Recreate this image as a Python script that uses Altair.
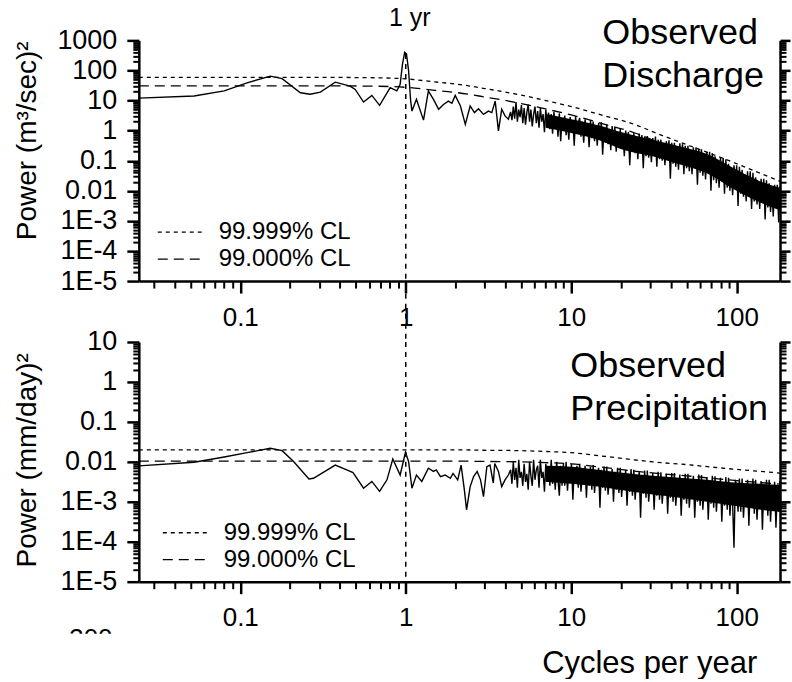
import numpy as np
import pandas as pd
import altair as alt

FONT = "Liberation Sans"
F_MIN, F_MAX = 1 / 41, 182.5

# ---------------- tick values / labels ----------------
x_tick_values = [0.1, 1, 10, 100]
x_tick_labels = ["0.1", "1", "10", "100"]
q_tick_values = [1e-5, 1e-4, 1e-3, 1e-2, 1e-1, 1, 10, 100, 1000]
q_tick_labels = ["1E-5", "1E-4", "1E-3", "0.01", "0.1", "1", "10", "100", "1000"]
p_tick_values = [1e-5, 1e-4, 1e-3, 1e-2, 1e-1, 1, 10]
p_tick_labels = ["1E-5", "1E-4", "1E-3", "0.01", "0.1", "1", "10"]

# ---------------- confidence limits (log10 power) ----------------
cl_freq = [0.02439, 0.3, 0.6, 1, 1.5, 2, 3, 5, 7, 10, 15, 24, 35, 50, 70, 100, 140, 182.5]
q_cl999 = [1.77, 1.77, 1.76, 1.72, 1.62, 1.55, 1.40, 1.18, 1.00, 0.80, 0.53, 0.21, -0.15, -0.47, -0.77, -1.10, -1.43, -1.68]
q_cl990 = [1.49, 1.49, 1.48, 1.44, 1.34, 1.27, 1.12, 0.90, 0.72, 0.52, 0.25, -0.07, -0.43, -0.75, -1.05, -1.38, -1.71, -1.96]
p_cl999 = [-1.70, -1.70, -1.70, -1.70, -1.70, -1.70, -1.71, -1.72, -1.74, -1.77, -1.85, -1.95, -2.02, -2.07, -2.13, -2.19, -2.24, -2.28]
p_cl990 = [-1.98, -1.98, -1.98, -1.98, -1.98, -1.98, -1.99, -2.00, -2.02, -2.05, -2.13, -2.23, -2.30, -2.35, -2.41, -2.47, -2.52, -2.56]

# ---------------- discharge spectrum (log10 power) ----------------
q_low_freq = [0.02439, 0.0526, 0.080, 0.110, 0.152, 0.179, 0.231, 0.265, 0.305, 0.375, 0.461, 0.495,
              0.556, 0.624, 0.695, 0.805, 0.883, 0.925, 0.955, 0.985, 1.01, 1.04, 1.07, 1.09, 1.16,
              1.28, 1.37, 1.47, 1.58, 1.69, 1.81, 1.90, 1.99, 2.14, 2.29, 2.45, 2.60, 2.75, 2.95,
              3.16, 3.31, 3.47, 3.63, 3.80, 3.98, 4.17]
q_low_lp = [1.08, 1.15, 1.32, 1.59, 1.81, 1.73, 1.26, 1.21, 1.28, 1.61, 1.48, 1.37,
            0.95, 1.17, 0.84, 1.43, 1.32, 1.54, 2.20, 2.60, 2.55, 2.00, 1.00, 0.65, 1.04,
            0.35, 1.32, 1.04, 0.71, 0.87, 0.98, 0.91, 1.17, 0.82, 0.21, 0.82, 0.60, 0.73, 0.54,
            0.65, 0.60, 0.98, -0.01, 0.71, 0.49, 0.38]
# 200 values, log-spaced frequencies from 4.3 to 182.5 cycles/yr
q_high_lp = [
    0.62, 0.35, 0.80, 0.40, 0.95, 0.30, 0.70, 0.45, 0.85, 0.25,
    0.75, 0.20, 0.60, 0.87, 0.30, 0.70, 0.14, 0.55, 0.80, 0.25,
    0.65, 0.10, 0.75, 0.30, 0.55, -0.05, 0.70, 0.20, 0.60, 0.05,
    0.55, -0.10, 0.62, 0.15, 0.45, -0.20, 0.58, -0.35, 0.40, 0.10,
    0.50, -0.15, 0.35, -0.30, 0.45, 0.05, 0.30, -0.50, 0.48, -0.10,
    0.25, 0.42, -0.20, 0.30, -0.40, 0.38, -0.10, 0.20, -0.55, 0.35,
    -0.25, 0.30, -0.35, 0.15, -0.50, 0.25, -0.20, 0.28, -0.80, 0.10,
    -0.40, 0.20, -0.45, 0.05, -0.65, 0.15, -0.30, 0.12, -0.70, -0.05,
    -0.50, 0.05, -0.60, -0.10, -0.85, 0.00, -0.50, -0.05, -1.15, -0.20,
    -0.70, -0.07, -0.75, -0.25, -0.95, -0.10, -0.60, -0.15, -1.25, -0.20,
    -0.85, -0.18, -0.90, -0.35, -1.05, -0.25, -0.70, -0.20, -1.20, -0.30,
    -0.95, -0.30, -1.00, -0.45, -1.15, -0.35, -0.80, -0.32, -1.60, -0.40,
    -1.10, -0.40, -1.20, -0.55, -1.30, -0.42, -0.95, -0.45, -1.45, -0.50,
    -1.25, -0.50, -1.35, -0.65, -1.45, -0.55, -1.10, -0.55, -1.80, -0.60,
    -1.40, -0.62, -1.50, -0.80, -1.62, -0.70, -1.25, -0.70, -2.00, -0.75,
    -1.65, -0.85, -1.75, -1.00, -1.90, -0.90, -1.50, -0.90, -2.10, -0.95,
    -1.90, -1.10, -2.00, -1.25, -2.15, -1.15, -1.75, -1.15, -2.50, -1.20,
    -2.10, -1.30, -2.20, -1.45, -2.35, -1.35, -1.95, -1.35, -2.60, -1.40,
    -2.35, -1.55, -2.45, -1.70, -2.60, -1.60, -2.20, -1.60, -2.95, -1.65,
    -2.55, -1.75, -2.70, -1.90, -2.85, -1.80, -2.40, -1.80, -3.05, -1.85,
]
# dense core of the noisy band (log10 power)
band_freq = [7, 10, 14.5, 21, 31, 45, 66, 96, 140, 182.5]
q_band_hi = [0.55, 0.38, 0.18, -0.08, -0.30, -0.52, -0.78, -1.25, -1.70, -1.90]
q_band_lo = [0.10, -0.08, -0.30, -0.65, -0.85, -1.12, -1.42, -1.95, -2.40, -2.65]

# ---------------- precipitation spectrum (log10 power) ----------------
p_low_freq = [0.02439, 0.0526, 0.080, 0.110, 0.152, 0.179, 0.21, 0.26, 0.277, 0.375, 0.44, 0.48,
              0.556, 0.624, 0.695, 0.77, 0.835, 0.925, 0.996, 1.04, 1.09, 1.16, 1.25, 1.37, 1.47,
              1.53, 1.62, 1.73, 1.86, 1.93, 2.06, 2.16, 2.26, 2.33, 2.45, 2.57, 2.70, 2.83, 2.95,
              3.09, 3.23, 3.38, 3.45, 3.63, 3.80, 3.98, 4.17]
p_low_lp = [-2.10, -2.01, -1.88, -1.77, -1.66, -1.72, -1.99, -2.43, -2.41, -2.08, -2.20, -2.27,
            -2.66, -2.49, -2.74, -2.45, -1.93, -2.33, -1.76, -1.99, -2.66, -2.33, -2.49, -2.16, -2.24,
            -2.20, -2.37, -2.33, -2.41, -2.29, -2.45, -2.08, -2.70, -3.20, -2.62, -2.37, -2.24, -2.45, -2.87,
            -2.12, -2.08, -2.53, -2.04, -2.24, -2.62, -2.45, -2.33]
p_high_lp = [
    -2.20, -2.55, -2.00, -2.45, -2.15, -2.65, -1.95, -2.40, -2.25, -2.60,
    -2.05, -2.50, -2.30, -2.70, -2.00, -2.35, -2.60, -1.95, -2.45, -2.20,
    -2.10, -2.65, -1.95, -2.40, -2.25, -2.75, -2.05, -2.50, -2.15, -2.60,
    -1.95, -2.55, -2.20, -2.70, -2.00, -2.45, -2.85, -2.10, -2.60, -2.05,
    -2.60, -2.00, -2.72, -2.25, -2.45, -2.05, -2.95, -2.15, -2.55, -2.10,
    -2.65, -2.05, -2.75, -2.30, -2.50, -2.10, -2.90, -2.20, -2.60, -2.12,
    -2.70, -2.08, -2.78, -2.30, -2.55, -2.15, -3.15, -2.20, -2.65, -2.12,
    -2.72, -2.12, -2.82, -2.35, -2.60, -2.18, -3.00, -2.25, -2.70, -2.15,
    -2.78, -2.15, -2.88, -2.40, -2.65, -2.20, -3.10, -2.30, -2.75, -2.18,
    -2.85, -2.20, -2.95, -2.45, -2.70, -2.25, -3.40, -2.35, -2.80, -2.22,
    -2.90, -2.22, -3.00, -2.50, -2.75, -2.28, -3.20, -2.40, -2.85, -2.25,
    -2.95, -2.26, -3.05, -2.55, -2.80, -2.30, -3.30, -2.45, -2.90, -2.28,
    -3.00, -2.28, -3.10, -2.60, -2.85, -2.32, -3.35, -2.50, -2.95, -2.30,
    -3.05, -2.30, -3.15, -2.62, -2.90, -2.35, -3.40, -2.55, -3.00, -2.32,
    -3.10, -2.33, -3.20, -2.65, -2.95, -2.38, -3.45, -2.55, -3.05, -2.35,
    -3.15, -2.36, -3.25, -2.70, -3.00, -2.40, -3.50, -2.60, -3.10, -2.38,
    -3.20, -2.40, -3.35, -2.72, -3.05, -4.15, -2.45, -2.60, -3.25, -2.42,
    -3.25, -2.42, -3.40, -2.75, -3.05, -2.45, -3.60, -2.60, -3.15, -2.42,
    -3.30, -2.45, -3.45, -2.80, -3.10, -2.48, -3.70, -2.65, -3.20, -2.45,
    -3.35, -2.45, -3.50, -2.80, -3.15, -2.50, -3.65, -2.70, -3.25, -2.48,
]
p_band_hi = [-2.10, -2.12, -2.20, -2.28, -2.35, -2.40, -2.45, -2.52, -2.55, -2.58]
p_band_lo = [-2.50, -2.55, -2.62, -2.72, -2.82, -2.90, -3.00, -3.10, -3.20, -3.25]

high_freq = list(np.geomspace(4.3, F_MAX, len(q_high_lp)))

legend_labels = ["99.999% CL", "99.000% CL"]

W = 642
H_TOP, H_BOT = 241, 240
GAP = 60


def minor(lo, hi):
    out = []
    for k in range(-6, 4):
        for m in range(2, 10):
            v = m * 10.0 ** k
            if lo < v < hi:
                out.append(v)
    return out


def label_expr(vals, labels):
    expr = f"'{labels[-1]}'"
    for v, lab in reversed(list(zip(vals[:-1], labels[:-1]))):
        expr = f"datum.value < {v * 2:.10g} ? '{lab}' : ({expr})"
    return expr


def one(text):
    return pd.DataFrame({"t": [text]})


def panel(low_f, low_lp, high_lp, band_hi, band_lo, cl999, cl990, ydom, yvals, ylabels,
          ytitle, ytitle_y, h, titles, title_x, title_y, leg_x, leg_y, top):
    xs = alt.Scale(type="log", domain=[F_MIN, F_MAX], nice=False)
    ys = alt.Scale(type="log", domain=ydom, nice=False)
    df_line = pd.DataFrame({"f": list(low_f) + high_freq,
                            "p": [10 ** v for v in list(low_lp) + list(high_lp)]})
    df_band = pd.DataFrame({"f": band_freq, "hi": [10 ** v for v in band_hi],
                            "lo": [10 ** v for v in band_lo]})
    df_cl = pd.DataFrame({"f": cl_freq, "a": [10 ** v for v in cl999],
                          "b": [10 ** v for v in cl990]})

    common = dict(grid=False, domainColor="black", tickColor="black", labelColor="black",
                  labelFont=FONT, titleFont=FONT, titleColor="black")
    xtitle = {"title": None} if top else dict(
        title="Cycles per year", titleFontSize=31, titleFontWeight="normal",
        titleX=511, titleY=91, titleAlign="center", titleBaseline="alphabetic")
    x_major = alt.Axis(orient="bottom", values=x_tick_values,
                       labelExpr=label_expr(x_tick_values, x_tick_labels),
                       tickSize=12, tickWidth=2.5, domainWidth=2.5, labelFontSize=26,
                       labelPadding=11, labelFlush=False, labelOverlap=False,
                       **xtitle, **common)
    x_minor = alt.Axis(orient="bottom", values=minor(F_MIN, F_MAX), labels=False, tickSize=7,
                       tickWidth=2, domain=False, title=None, grid=False, tickColor="black")
    y_major_l = alt.Axis(orient="left", values=yvals, labelExpr=label_expr(yvals, ylabels),
                         tickSize=12, tickWidth=2.5, domainWidth=2.5, labelFontSize=27,
                         labelPadding=10, labelOverlap=False, labelFlush=False,
                         title=ytitle, titleFontSize=28, titleFontWeight="normal",
                         titleAngle=270, titleX=-103, titleY=ytitle_y, titleAlign="center",
                         titleBaseline="alphabetic", **common)
    y_minor_l = alt.Axis(orient="left", values=minor(ydom[0], ydom[1]), labels=False,
                         tickSize=6, tickWidth=2, domain=False, title=None, grid=False,
                         tickColor="black")
    y_major_r = alt.Axis(orient="right", values=yvals, labels=False, tickSize=10,
                         tickWidth=2.5, domainWidth=2.5, title=None, grid=False,
                         tickColor="black", domainColor="black")
    y_minor_r = alt.Axis(orient="right", values=minor(ydom[0], ydom[1]), labels=False,
                         tickSize=6, tickWidth=2, domain=False, title=None, grid=False,
                         tickColor="black")

    layers = []
    layers.append(alt.Chart(df_cl).mark_line(color="black", strokeWidth=1.3, strokeDash=[4, 4],
                                             interpolate="monotone").encode(
        x=alt.X("f:Q", scale=xs, axis=x_major), y=alt.Y("a:Q", scale=ys, axis=y_major_l)))
    layers.append(alt.Chart(df_cl).mark_line(color="black", strokeWidth=1.3, strokeDash=[10, 6],
                                             interpolate="monotone").encode(
        x=alt.X("f:Q", scale=xs, axis=x_minor), y=alt.Y("b:Q", scale=ys, axis=y_minor_l)))
    layers.append(alt.Chart(df_band).mark_area(color="black", interpolate="monotone").encode(
        x=alt.X("f:Q", scale=xs, axis=None), y=alt.Y("hi:Q", scale=ys, axis=None),
        y2=alt.Y2("lo:Q")))
    layers.append(alt.Chart(df_line).mark_line(color="black", strokeWidth=1.4).encode(
        x=alt.X("f:Q", scale=xs, axis=None), y=alt.Y("p:Q", scale=ys, axis=y_major_r)))
    layers.append(alt.Chart(df_cl).mark_point(opacity=0).encode(
        x=alt.X("f:Q", scale=xs, axis=None), y=alt.Y("a:Q", scale=ys, axis=y_minor_r)))

    # 1-year line
    if top:
        df_r = pd.DataFrame({"f": [1.0], "p": [350.0]})
        layers.append(alt.Chart(df_r).mark_rule(color="black", strokeWidth=1.5,
                                                strokeDash=[5, 5]).encode(
            x=alt.X("f:Q", scale=xs, axis=None), y=alt.Y("p:Q", scale=ys, axis=None),
            y2=alt.value(h + GAP)))
        layers.append(alt.Chart(pd.DataFrame({"f": [1.0], "t": ["1 yr"]})).mark_text(
            font=FONT, fontSize=25, baseline="alphabetic", align="center", dx=4,
            color="black").encode(x=alt.X("f:Q", scale=xs, axis=None), y=alt.value(-14),
                                   text="t:N"))
    else:
        df_r = pd.DataFrame({"f": [1.0]})
        layers.append(alt.Chart(df_r).mark_rule(color="black", strokeWidth=1.5,
                                                strokeDash=[5, 5]).encode(
            x=alt.X("f:Q", scale=xs, axis=None), y=alt.value(0), y2=alt.value(h)))

    # panel titles
    for i, t in enumerate(titles):
        layers.append(alt.Chart(one(t)).mark_text(font=FONT, fontSize=36, align="left",
                                                  baseline="alphabetic", color="black").encode(
            x=alt.value(title_x), y=alt.value(title_y + 43 * i), text="t:N"))

    # legend
    for i, (lab, dash) in enumerate(zip(legend_labels, [[4, 4], [10, 6]])):
        yy = leg_y + 27 * i
        layers.append(alt.Chart(one(lab)).mark_rule(color="black", strokeWidth=1.3,
                                                    strokeDash=dash).encode(
            x=alt.value(leg_x), x2=alt.value(leg_x + 44), y=alt.value(yy)))
        layers.append(alt.Chart(one(lab)).mark_text(font=FONT, fontSize=24, align="left",
                                                    baseline="middle", color="black").encode(
            x=alt.value(leg_x + 61), y=alt.value(yy), text="t:N"))

    if not top:
        # partially hidden label below the panel
        layers.append(alt.Chart(one("300")).mark_text(font=FONT, fontSize=26, align="center",
                                                      baseline="alphabetic", color="black").encode(
            x=alt.value(-48), y=alt.value(305), text="t:N"))
        layers.append(alt.Chart(one("mask")).mark_rect(color="white").encode(
            x=alt.value(-80), x2=alt.value(-15), y=alt.value(292), y2=alt.value(310)))

    return alt.layer(*layers).resolve_axis(x="independent", y="independent").properties(
        width=W, height=h)


top_panel = panel(q_low_freq, q_low_lp, q_high_lp, q_band_hi, q_band_lo, q_cl999, q_cl990,
                  [1e-5, 1000], q_tick_values, q_tick_labels, "Power (m³/sec)²", 100, H_TOP,
                  ["Observed", "Discharge"], 464, 4, 19, 192, True)
bot_panel = panel(p_low_freq, p_low_lp, p_high_lp, p_band_hi, p_band_lo, p_cl999, p_cl990,
                  [1e-5, 10], p_tick_values, p_tick_labels, "Power (mm/day)²", 118, H_BOT,
                  ["Observed", "Precipitation"], 432, 35, 24, 191, False)

chart = alt.vconcat(top_panel, bot_panel, spacing=-15).configure_view(stroke=None).properties(
    padding={"left": 14, "top": 6, "right": 0, "bottom": 0}, background="white")

chart.save("out.html", embed_options={"renderer": "svg", "actions": False})
